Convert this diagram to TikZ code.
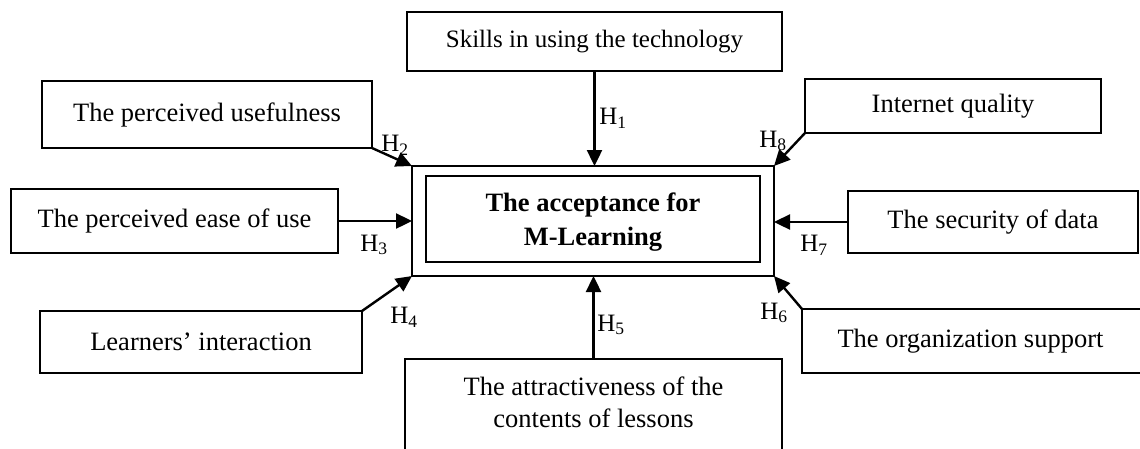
\documentclass[tikz,border=0pt]{standalone}
\usepackage{fontspec}
\setmainfont{Liberation Serif}
\usetikzlibrary{arrows.meta}
\begin{document}
\begin{tikzpicture}[x=1pt,y=-1pt,
  factor/.style={draw, line width=2pt, outer sep=0pt, inner sep=0pt,
    font=\fontsize{26.5}{33}\selectfont, align=center},
  core/.style={draw, line width=2.6pt, outer sep=0pt, inner sep=0pt},
  link/.style={line width=2.4pt, -{Triangle[length=16pt,width=15pt]}},
  hyp/.style={inner sep=0pt, font=\fontsize{25}{30}\selectfont},
]
\useasboundingbox (0,0) rectangle (1140,448);

% central construct
\node[core, minimum width=362pt, minimum height=110pt] (outer) at (593,221) {};
\node[core, minimum width=334pt, minimum height=86pt] (inner) at (593,219) {};
\node[inner sep=0pt, font=\fontsize{26.5}{34}\selectfont\bfseries, align=center]
      (innertext) at (593,222.5) {The acceptance for\\M-Learning};

% influencing factors
\node[factor, minimum width=375pt, minimum height=59pt,
      font=\fontsize{25}{30}\selectfont] (skills) at (594.5,41.5) {Skills in using the technology};
\node[factor, minimum width=330pt, minimum height=67pt] (pu) at (207,114.5) {The perceived usefulness};
\node[factor, minimum width=327pt, minimum height=64pt] (peou) at (174.5,221) {The perceived ease of use};
\node[factor, minimum width=322pt, minimum height=62pt] (li) at (201,342) {Learners’ interaction};
\node[factor, minimum width=377pt, minimum height=120pt] (attr) at (593.5,419) {};
\node[inner sep=0pt, font=\fontsize{26.5}{32}\selectfont, align=center] (attrtext) at (593.5,402)
      {The attractiveness of the\\contents of lessons};
\node[factor, minimum width=348pt, minimum height=64pt] (org) at (976,341) {};
\node[inner sep=0pt, font=\fontsize{26.5}{33}\selectfont] (orgtext) at (970.5,341) {The organization support};
\node[factor, minimum width=290pt, minimum height=62pt] (sec) at (993,222) {The security of data};
\node[factor, minimum width=296pt, minimum height=54pt] (iq) at (953,106) {Internet quality};

% hypothesised paths
\draw[link] (skills.south) -- (skills.south |- outer.north);
\draw[link] (pu.south east) -- (outer.north west);
\draw[link] (peou.east) -- (outer.west |- peou.east);
\draw[link] (li.north east) -- (outer.south west);
\draw[link] (attr.north) -- (attr.north |- outer.south);
\draw[link] (org.north west) -- (outer.south east);
\draw[link] (sec.west) -- (outer.east |- sec.west);
\draw[link] (iq.south west) -- (outer.north east);

% path labels
\node[hyp] (h1) at (613,118) {H\textsubscript{1}};
\node[hyp] (h2) at (395,145) {H\textsubscript{2}};
\node[hyp] (h3) at (374,245) {H\textsubscript{3}};
\node[hyp] (h4) at (404,317) {H\textsubscript{4}};
\node[hyp] (h5) at (611,325) {H\textsubscript{5}};
\node[hyp] (h6) at (774,313) {H\textsubscript{6}};
\node[hyp] (h7) at (814,245) {H\textsubscript{7}};
\node[hyp] (h8) at (773,141) {H\textsubscript{8}};
\end{tikzpicture}
\end{document}
